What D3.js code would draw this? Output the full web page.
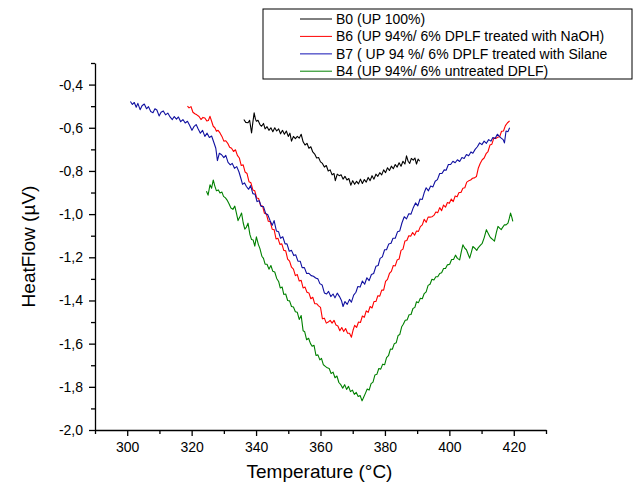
<!DOCTYPE html>
<html lang="en">
<head>
<meta charset="utf-8">
<title>DSC HeatFlow</title>
<script src="https://d3js.org/d3.v7.min.js"></script>
<style>
  body { margin: 0; background: #fff; }
  svg { font-family: "Liberation Sans", Arial, sans-serif; }
  .axis path, .axis line { stroke: #000; stroke-width: 1.3; }
  .axis text { font-size: 14px; fill: #000; }
</style>
</head>
<body>
<svg id="chart" width="637" height="487"></svg>
<script>
// series names / colours
var seriesNames = ["B0 (UP 100%)", "B6 (UP 94%/ 6% DPLF treated with NaOH)",
  "B7 ( UP 94 %/ 6% DPLF treated with Silane", "B4 (UP 94%/ 6% untreated DPLF)"];
var seriesColors = ["#000000", "#ff0000", "#1010a0", "#008000"];

// [temperature, heat flow]
var b0 = [[336.2,-0.562],[336.8,-0.575],[337.5,-0.577],[338.0,-0.565],[338.6,-0.624],[339.0,-0.575],[339.4,-0.531],[339.8,-0.560],
  [340.1,-0.570],[340.6,-0.565],[341.2,-0.585],[341.7,-0.593],[342.3,-0.580],[342.8,-0.605],[343.4,-0.595],[344.0,-0.612],
  [344.6,-0.600],[345.2,-0.618],[345.8,-0.600],[346.4,-0.615],[347.0,-0.605],[347.6,-0.628],[348.2,-0.612],[348.8,-0.630],
  [349.4,-0.615],[350.0,-0.640],[350.5,-0.625],[351.0,-0.662],[351.6,-0.640],[352.2,-0.650],[352.8,-0.640],[353.4,-0.648],
  [354.0,-0.630],[354.6,-0.665],[355.2,-0.680],[355.8,-0.672],[356.4,-0.695],[357.0,-0.688],[357.6,-0.712],[358.2,-0.722],
  [358.8,-0.740],[359.4,-0.738],[360.0,-0.758],[360.6,-0.765],[361.2,-0.782],[361.8,-0.775],[362.4,-0.800],[363.0,-0.795],
  [363.6,-0.818],[364.2,-0.812],[364.6,-0.845],[365.2,-0.815],[365.8,-0.822],[366.4,-0.818],[367.0,-0.838],[367.6,-0.825],
  [368.2,-0.842],[368.8,-0.835],[369.4,-0.866],[370.0,-0.845],[370.6,-0.862],[371.2,-0.848],[371.8,-0.860],[372.4,-0.838],
  [373.0,-0.858],[373.6,-0.840],[374.2,-0.852],[374.8,-0.830],[375.4,-0.845],[376.0,-0.822],[376.6,-0.838],[377.2,-0.815],
  [377.8,-0.825],[378.4,-0.808],[379.0,-0.818],[379.6,-0.795],[380.2,-0.808],[380.8,-0.785],[381.4,-0.798],[382.0,-0.778],
  [382.6,-0.790],[383.2,-0.770],[383.8,-0.782],[384.4,-0.762],[385.0,-0.778],[385.6,-0.755],[386.2,-0.768],[386.7,-0.730],
  [387.2,-0.755],[387.7,-0.765],[388.2,-0.742],[388.8,-0.750],[389.3,-0.740],[389.8,-0.768],[390.3,-0.745],[390.8,-0.755]];

var b6 = [[318.7,-0.500],[319.2,-0.508],[319.8,-0.502],[320.4,-0.528],[321.0,-0.535],[321.6,-0.540],[322.3,-0.548],[322.9,-0.562],
  [323.5,-0.552],[324.1,-0.555],[324.7,-0.568],[325.2,-0.566],[325.7,-0.547],[326.2,-0.570],[326.7,-0.593],[327.2,-0.600],
  [327.7,-0.616],[328.2,-0.612],[328.8,-0.624],[329.4,-0.640],[330.0,-0.662],[330.6,-0.660],[331.2,-0.672],[331.8,-0.690],
  [332.4,-0.695],[333.0,-0.710],[333.6,-0.702],[334.2,-0.728],[334.8,-0.740],[335.4,-0.775],[336.0,-0.772],[336.6,-0.805],
  [337.2,-0.812],[337.8,-0.850],[338.4,-0.855],[339.0,-0.888],[339.6,-0.892],[340.2,-0.925],[340.8,-0.928],[341.4,-0.960],
  [342.0,-0.962],[342.6,-0.996],[343.2,-1.000],[343.8,-1.033],[344.4,-1.035],[345.0,-1.070],[345.6,-1.072],[346.2,-1.115],
  [346.8,-1.112],[347.4,-1.140],[348.0,-1.138],[348.6,-1.168],[349.2,-1.170],[349.8,-1.208],[350.4,-1.218],[351.0,-1.246],
  [351.6,-1.255],[352.2,-1.285],[352.8,-1.280],[353.4,-1.310],[354.0,-1.307],[354.6,-1.342],[355.2,-1.338],[355.8,-1.362],
  [356.4,-1.365],[357.0,-1.392],[357.6,-1.385],[358.2,-1.415],[358.8,-1.415],[359.4,-1.425],[360.0,-1.432],[360.6,-1.485],
  [361.2,-1.482],[361.8,-1.505],[362.4,-1.500],[363.0,-1.492],[363.6,-1.505],[364.2,-1.492],[364.8,-1.514],[365.4,-1.518],
  [366.0,-1.540],[366.6,-1.525],[367.2,-1.544],[367.8,-1.530],[368.4,-1.552],[369.0,-1.552],[369.6,-1.570],[370.1,-1.538],
  [370.6,-1.515],[371.2,-1.525],[371.8,-1.500],[372.4,-1.502],[373.0,-1.472],[373.6,-1.478],[374.2,-1.448],[374.8,-1.455],
  [375.4,-1.428],[376.0,-1.435],[376.6,-1.405],[377.2,-1.405],[377.8,-1.378],[378.4,-1.380],[379.0,-1.352],[379.6,-1.352],
  [380.2,-1.312],[380.8,-1.302],[381.4,-1.275],[382.0,-1.265],[382.6,-1.238],[383.2,-1.240],[383.8,-1.212],[384.4,-1.208],
  [385.0,-1.168],[385.6,-1.162],[386.2,-1.125],[386.8,-1.122],[387.4,-1.100],[388.0,-1.102],[388.6,-1.085],[389.2,-1.098],
  [389.8,-1.078],[390.4,-1.080],[391.0,-1.058],[391.6,-1.050],[392.2,-1.024],[392.8,-1.038],[393.4,-1.014],[394.0,-1.014],
  [394.6,-1.012],[395.2,-1.006],[395.8,-0.990],[396.4,-0.993],[397.0,-0.970],[397.6,-0.984],[398.2,-0.958],[398.8,-0.968],
  [399.4,-0.946],[400.0,-0.950],[400.6,-0.930],[401.2,-0.942],[401.8,-0.916],[402.4,-0.920],[403.0,-0.900],[403.6,-0.900],
  [404.2,-0.880],[404.8,-0.878],[405.4,-0.852],[406.0,-0.846],[406.6,-0.842],[407.2,-0.834],[407.8,-0.832],[408.4,-0.826],
  [409.0,-0.786],[409.6,-0.764],[410.2,-0.748],[410.8,-0.740],[411.4,-0.720],[412.0,-0.710],[412.6,-0.680],[413.2,-0.676],
  [413.8,-0.648],[414.4,-0.650],[415.0,-0.644],[415.6,-0.642],[416.2,-0.616],[416.8,-0.615],[417.4,-0.590],[418.0,-0.578],
  [418.7,-0.568]];

var b7 = [[301.0,-0.478],[301.6,-0.492],[302.2,-0.483],[302.8,-0.505],[303.3,-0.487],[304.0,-0.516],[304.6,-0.498],[305.3,-0.490],
  [306.0,-0.512],[306.6,-0.502],[307.3,-0.525],[308.0,-0.530],[308.6,-0.512],[309.2,-0.518],[309.9,-0.545],[310.5,-0.528],
  [311.2,-0.522],[311.9,-0.540],[312.6,-0.532],[313.3,-0.550],[314.0,-0.562],[314.6,-0.548],[315.3,-0.560],[315.9,-0.550],
  [316.6,-0.572],[317.3,-0.562],[318.0,-0.578],[318.7,-0.570],[319.4,-0.590],[320.1,-0.612],[320.7,-0.595],[321.4,-0.585],
  [322.0,-0.605],[322.7,-0.625],[323.4,-0.612],[324.1,-0.640],[324.8,-0.625],[325.5,-0.645],[326.2,-0.638],[326.9,-0.668],
  [327.5,-0.695],[328.0,-0.752],[328.6,-0.718],[329.3,-0.725],[330.0,-0.738],[330.6,-0.728],[331.3,-0.760],[332.0,-0.772],
  [332.6,-0.765],[333.3,-0.788],[334.0,-0.780],[334.7,-0.805],[335.3,-0.835],[335.8,-0.862],[336.4,-0.855],[337.0,-0.872],
  [337.7,-0.885],[338.3,-0.868],[339.0,-0.905],[339.7,-0.908],[340.3,-0.942],[341.0,-0.938],[341.6,-0.965],[342.3,-0.965],
  [343.0,-0.998],[343.6,-1.002],[344.3,-1.028],[345.0,-1.052],[345.6,-1.030],[346.3,-1.078],[347.0,-1.082],[347.6,-1.112],
  [348.3,-1.105],[349.0,-1.138],[349.6,-1.138],[350.3,-1.172],[351.0,-1.168],[351.7,-1.192],[352.3,-1.188],[353.0,-1.218],
  [353.7,-1.218],[354.3,-1.248],[355.0,-1.248],[355.7,-1.275],[356.4,-1.274],[357.1,-1.285],[357.8,-1.288],[358.5,-1.296],
  [359.2,-1.300],[359.8,-1.322],[360.5,-1.328],[361.2,-1.365],[361.9,-1.370],[362.5,-1.358],[363.2,-1.382],[363.9,-1.370],
  [364.5,-1.388],[365.2,-1.366],[365.9,-1.382],[366.5,-1.400],[367.0,-1.428],[367.6,-1.405],[368.3,-1.418],[369.0,-1.395],
  [369.6,-1.408],[370.3,-1.375],[371.0,-1.362],[371.6,-1.335],[372.3,-1.338],[373.0,-1.310],[373.7,-1.325],[374.4,-1.295],
  [375.1,-1.308],[375.8,-1.280],[376.5,-1.275],[377.2,-1.242],[377.9,-1.238],[378.5,-1.205],[379.2,-1.198],[379.9,-1.165],
  [380.5,-1.165],[381.2,-1.138],[381.9,-1.135],[382.5,-1.112],[383.2,-1.112],[383.9,-1.082],[384.6,-1.078],[385.3,-1.040],
  [386.0,-1.012],[386.7,-1.022],[387.4,-0.998],[388.1,-1.000],[388.8,-0.970],[389.5,-0.948],[390.2,-0.962],[390.9,-0.930],
  [391.6,-0.932],[392.2,-0.900],[392.8,-0.878],[393.5,-0.892],[394.2,-0.870],[394.9,-0.874],[395.6,-0.848],[396.3,-0.840],
  [397.0,-0.812],[397.7,-0.812],[398.4,-0.795],[399.0,-0.797],[399.7,-0.770],[400.4,-0.770],[401.1,-0.755],[401.8,-0.762],
  [402.5,-0.748],[403.2,-0.756],[403.9,-0.738],[404.6,-0.742],[405.3,-0.724],[406.0,-0.730],[406.7,-0.712],[407.3,-0.718],
  [408.0,-0.700],[408.7,-0.688],[409.4,-0.670],[410.1,-0.678],[410.8,-0.662],[411.5,-0.672],[412.2,-0.655],[412.9,-0.662],
  [413.5,-0.645],[414.2,-0.650],[414.9,-0.630],[415.5,-0.640],[416.1,-0.648],[416.7,-0.655],[417.1,-0.670],[417.6,-0.615],
  [418.2,-0.618],[418.7,-0.600]];

var b4 = [[324.6,-0.894],[325.1,-0.912],[325.7,-0.864],[326.2,-0.880],[326.7,-0.842],[327.2,-0.870],[327.7,-0.892],[328.3,-0.888],
  [328.8,-0.902],[329.4,-0.898],[329.9,-0.918],[330.5,-0.925],[331.0,-0.935],[331.6,-0.952],[332.2,-0.972],[332.8,-0.978],
  [333.4,-0.963],[333.9,-0.995],[334.4,-1.030],[334.9,-1.015],[335.5,-0.995],[336.0,-1.040],[336.5,-1.070],[337.0,-1.060],
  [337.5,-1.042],[338.1,-1.095],[338.6,-1.118],[339.1,-1.120],[339.6,-1.148],[340.1,-1.105],[340.7,-1.140],[341.2,-1.160],
  [341.8,-1.195],[342.3,-1.205],[342.8,-1.232],[343.4,-1.232],[344.0,-1.255],[344.6,-1.238],[345.2,-1.265],[345.8,-1.268],
  [346.4,-1.298],[347.0,-1.312],[347.5,-1.342],[348.1,-1.338],[348.6,-1.372],[349.2,-1.370],[349.8,-1.400],[350.4,-1.402],
  [351.0,-1.428],[351.6,-1.430],[352.2,-1.452],[352.8,-1.455],[353.4,-1.488],[354.0,-1.470],[354.6,-1.540],[355.1,-1.545],
  [355.7,-1.582],[356.3,-1.575],[356.9,-1.600],[357.4,-1.612],[358.0,-1.608],[358.6,-1.655],[359.2,-1.652],[359.8,-1.675],
  [360.3,-1.668],[360.9,-1.698],[361.5,-1.705],[362.1,-1.712],[362.7,-1.715],[363.3,-1.738],[363.9,-1.732],[364.5,-1.758],
  [365.1,-1.750],[365.7,-1.780],[366.3,-1.790],[366.9,-1.806],[367.5,-1.790],[368.1,-1.812],[368.7,-1.798],[369.3,-1.822],
  [369.9,-1.815],[370.5,-1.835],[371.1,-1.826],[371.7,-1.845],[372.3,-1.840],[372.9,-1.865],[373.4,-1.848],[374.0,-1.828],
  [374.5,-1.810],[375.1,-1.815],[375.7,-1.785],[376.3,-1.778],[376.9,-1.745],[377.5,-1.742],[378.1,-1.715],[378.7,-1.718],
  [379.3,-1.695],[379.9,-1.698],[380.5,-1.665],[381.1,-1.656],[381.7,-1.625],[382.3,-1.626],[382.9,-1.600],[383.5,-1.596],
  [384.1,-1.562],[384.6,-1.558],[385.2,-1.522],[385.7,-1.510],[386.3,-1.492],[386.9,-1.490],[387.5,-1.466],[388.1,-1.465],
  [388.7,-1.437],[389.3,-1.432],[389.8,-1.406],[390.4,-1.410],[391.0,-1.390],[391.6,-1.392],[392.2,-1.368],[392.8,-1.360],
  [393.4,-1.330],[394.0,-1.325],[394.6,-1.302],[395.2,-1.305],[395.8,-1.290],[396.4,-1.290],[397.0,-1.275],[397.6,-1.272],
  [398.2,-1.252],[398.8,-1.252],[399.4,-1.235],[400.1,-1.232],[400.7,-1.210],[401.3,-1.210],[401.9,-1.190],[402.5,-1.205],
  [403.2,-1.212],[403.7,-1.175],[404.2,-1.142],[404.8,-1.158],[405.3,-1.165],[405.8,-1.185],[406.3,-1.204],[406.8,-1.178],
  [407.3,-1.150],[407.9,-1.158],[408.5,-1.168],[409.0,-1.155],[409.6,-1.145],[410.2,-1.135],[410.8,-1.110],[411.5,-1.072],
  [412.0,-1.088],[412.5,-1.103],[413.0,-1.112],[413.5,-1.118],[414.0,-1.125],[414.6,-1.085],[415.1,-1.057],[415.6,-1.065],
  [416.1,-1.072],[416.6,-1.060],[417.1,-1.049],[417.6,-1.050],[418.2,-1.042],[418.6,-1.020],[419.0,-0.995],[419.4,-1.015],
  [419.7,-1.034]];

var xMajor = [300, 320, 340, 360, 380, 400, 420];
var xMinor = [290, 310, 330, 350, 370, 390, 410, 430];
var yMajor = [-2.0, -1.8, -1.6, -1.4, -1.2, -1.0, -0.8, -0.6, -0.4];
var yMinor = [-1.9, -1.7, -1.5, -1.3, -1.1, -0.9, -0.7, -0.5, -0.3];

var svg = d3.select("#chart");
// plot frame (note: "top" is reserved on window, so use own names)
var plotL = 95, plotR = 546, plotT = 63, plotB = 430;

var x = d3.scaleLinear().domain([290, 430]).range([plotL, plotR]);
var y = d3.scaleLinear().domain([-2.0, -0.3]).range([plotB, plotT]);

var comma = function(d) { return d3.format(".1f")(d).replace(".", ",").replace("−", "-"); };

// minor ticks first, then major axes with labels
svg.append("g").attr("class", "axis")
    .attr("transform", "translate(0," + plotB + ")")
    .call(d3.axisBottom(x).tickValues(xMinor).tickSize(4).tickFormat(""))
    .select(".domain").remove();
svg.append("g").attr("class", "axis")
    .attr("transform", "translate(" + plotL + ",0)")
    .call(d3.axisLeft(y).tickValues(yMinor).tickSize(4).tickFormat(""))
    .select(".domain").remove();

svg.append("g").attr("class", "axis")
    .attr("transform", "translate(0," + plotB + ")")
    .call(d3.axisBottom(x).tickValues(xMajor).tickSize(6).tickSizeOuter(0).tickPadding(6).tickFormat(d3.format("d")));
svg.append("g").attr("class", "axis")
    .attr("transform", "translate(" + plotL + ",0)")
    .call(d3.axisLeft(y).tickValues(yMajor).tickSize(6).tickSizeOuter(0).tickPadding(6).tickFormat(comma));

// axis titles
svg.append("text")
    .attr("x", (plotL + plotR) / 2 - 1).attr("y", 478)
    .attr("text-anchor", "middle").style("font-size", "19px")
    .text("Temperature (°C)");
svg.append("text")
    .attr("transform", "translate(35," + ((plotT + plotB) / 2) + ") rotate(-90)")
    .attr("text-anchor", "middle").style("font-size", "19px")
    .text("HeatFlow (µV)");

// curves
var line = d3.line().x(function(d) { return x(d[0]); }).y(function(d) { return y(d[1]); });
var allSeries = [b0, b6, b7, b4];
svg.selectAll(".curve")
    .data(allSeries)
    .enter().append("path")
    .attr("class", "curve")
    .attr("d", line)
    .attr("fill", "none")
    .attr("stroke", function(d, i) { return seriesColors[i]; })
    .attr("stroke-width", 1.1)
    .attr("stroke-linejoin", "round");

// legend
var legend = svg.append("g").attr("transform", "translate(263,9)");
legend.append("rect").attr("width", 369).attr("height", 70)
    .attr("fill", "#fff").attr("stroke", "#000").attr("stroke-width", 1);
var rows = legend.selectAll(".row").data(seriesNames).enter().append("g")
    .attr("transform", function(d, i) { return "translate(0," + (10 + i * 17.4) + ")"; });
rows.append("line").attr("x1", 37).attr("x2", 69)
    .attr("stroke", function(d, i) { return i == 2 ? "#6a6ad0" : seriesColors[i]; })
    .attr("stroke-width", function(d, i) { return i == 2 ? 1.6 : 1; });
rows.append("text").attr("x", 73).attr("y", 5)
    .style("font-size", "14px").text(function(d) { return d; });
</script>
</body>
</html>
